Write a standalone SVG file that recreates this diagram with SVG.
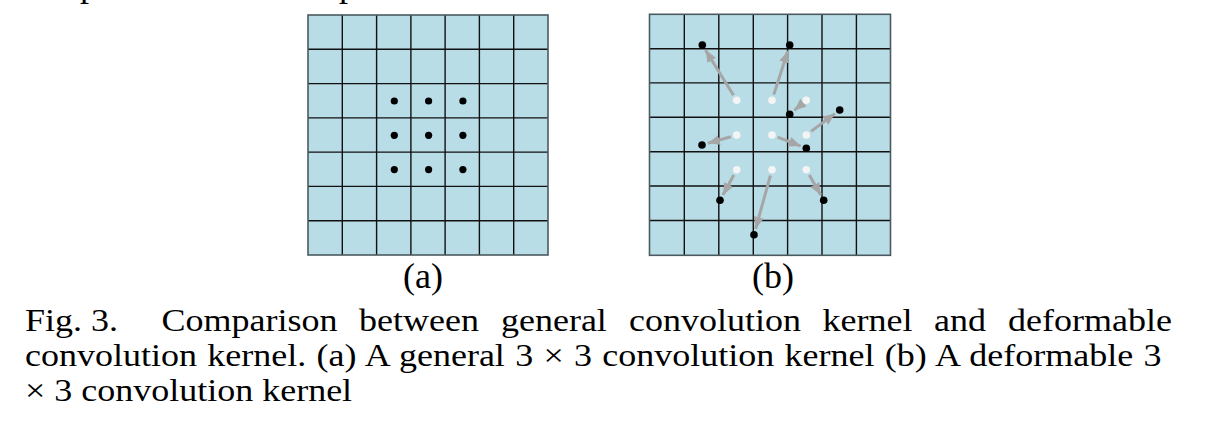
<svg xmlns="http://www.w3.org/2000/svg" width="1215" height="440" viewBox="0 0 1215 440">
<style>
.bg{fill:#b8dde7;}
.gl{stroke:#111;stroke-width:1.4;fill:none;}
.bd{fill:none;stroke:#4a5a60;stroke-width:1.6;}
.bk{fill:#000;}
.wh{fill:#f4f4f4;}
.ar{stroke:#a6a6a6;stroke-width:3;fill:none;marker-end:url(#ah);}
.t{font-family:"Liberation Serif","Times New Roman",serif;font-size:36px;fill:#000;}
</style>
<defs>
<marker id="ah" markerUnits="userSpaceOnUse" markerWidth="13" markerHeight="11" refX="12" refY="5" orient="auto">
<path d="M0,0 L12,5 L0,10 z" fill="#a6a6a6"/>
</marker>
</defs>
<text class="t" x="80" y="-4">p</text>
<text class="t" x="339" y="-4">p</text>
<g id="gridA">
<rect class="bg" x="308" y="15" width="240" height="240"/>
<path class="gl" d="M342.3,15V255M376.6,15V255M410.9,15V255M445.1,15V255M479.4,15V255M513.7,15V255M308,49.3H548M308,83.6H548M308,117.9H548M308,152.1H548M308,186.4H548M308,220.7H548"/>
<rect class="bd" x="308" y="15" width="240" height="240"/>
</g>
<g id="dotsA">
<circle class="bk" cx="394.3" cy="101" r="3.6"/>
<circle class="bk" cx="428.6" cy="101" r="3.6"/>
<circle class="bk" cx="462.9" cy="101" r="3.6"/>
<circle class="bk" cx="394.3" cy="135.3" r="3.6"/>
<circle class="bk" cx="428.6" cy="135.3" r="3.6"/>
<circle class="bk" cx="462.9" cy="135.3" r="3.6"/>
<circle class="bk" cx="394.3" cy="169.6" r="3.6"/>
<circle class="bk" cx="428.6" cy="169.6" r="3.6"/>
<circle class="bk" cx="462.9" cy="169.6" r="3.6"/>
</g>
<g id="gridB">
<rect class="bg" x="649.5" y="14.3" width="241" height="241"/>
<path class="gl" d="M684.3,14.3V255.3M718.8,14.3V255.3M753.3,14.3V255.3M787.6,14.3V255.3M822,14.3V255.3M856.4,14.3V255.3M649.5,48.7H890.5M649.5,82.9H890.5M649.5,117.3H890.5M649.5,151.7H890.5M649.5,186H890.5M649.5,220.5H890.5"/>
<rect class="bd" x="649.5" y="14.3" width="241" height="241"/>
</g>
<g id="connectors">
<line class="ar" x1="733.5" y1="95.2" x2="705.5" y2="50.1"/>
<line class="ar" x1="773.8" y1="94.6" x2="787.9" y2="50.7"/>
<line class="ar" x1="801.7" y1="104.2" x2="794.3" y2="110.4"/>
<line class="ar" x1="730.9" y1="136.7" x2="707.8" y2="143.3"/>
<line class="ar" x1="777.6" y1="137.2" x2="800.7" y2="146.1"/>
<line class="ar" x1="811.1" y1="131.4" x2="834.9" y2="113.6"/>
<line class="ar" x1="733.8" y1="175" x2="722.9" y2="195"/>
<line class="ar" x1="770.4" y1="175.5" x2="755.6" y2="228.9"/>
<line class="ar" x1="809.3" y1="174.9" x2="820.7" y2="195"/>
</g>
<g id="dotsB">
<circle class="wh" cx="736.7" cy="100.3" r="3.8"/>
<circle class="wh" cx="772" cy="100.3" r="3.8"/>
<circle class="wh" cx="806.3" cy="100.3" r="3.8"/>
<circle class="wh" cx="736.7" cy="135" r="3.8"/>
<circle class="wh" cx="772" cy="135" r="3.8"/>
<circle class="wh" cx="806.3" cy="135" r="3.8"/>
<circle class="wh" cx="736.7" cy="169.7" r="3.8"/>
<circle class="wh" cx="772" cy="169.7" r="3.8"/>
<circle class="wh" cx="806.3" cy="169.7" r="3.8"/>
<circle class="bk" cx="702.3" cy="45" r="3.8"/>
<circle class="bk" cx="789.7" cy="45" r="3.8"/>
<circle class="bk" cx="789.7" cy="114.3" r="3.8"/>
<circle class="bk" cx="702" cy="145" r="3.8"/>
<circle class="bk" cx="806.3" cy="148.3" r="3.8"/>
<circle class="bk" cx="839.7" cy="110" r="3.8"/>
<circle class="bk" cx="720" cy="200.3" r="3.8"/>
<circle class="bk" cx="754" cy="234.7" r="3.8"/>
<circle class="bk" cx="823.7" cy="200.3" r="3.8"/>
</g>
<g id="labels">
<text class="t" x="423" y="288" text-anchor="middle">(a)</text>
<text class="t" x="773" y="288" text-anchor="middle">(b)</text>
</g>
<g id="caption">
<text class="t" transform="translate(0,331) scale(1,0.86)" y="0"><tspan x="25">Fig.</tspan><tspan x="91">3.</tspan><tspan x="161.5">Comparison</tspan><tspan x="359">between</tspan><tspan x="501">general</tspan><tspan x="629">convolution</tspan><tspan x="822.5">kernel</tspan><tspan x="934">and</tspan><tspan x="1172" text-anchor="end">deformable</tspan></text>
<text class="t" transform="translate(0,366) scale(1,0.86)" x="25" y="0" word-spacing="1.3">convolution kernel. (a) A general 3 × 3 convolution kernel (b) A deformable 3</text>
<text class="t" transform="translate(0,401) scale(1,0.86)" x="25" y="0">× 3 convolution kernel</text>
</g>
</svg>
